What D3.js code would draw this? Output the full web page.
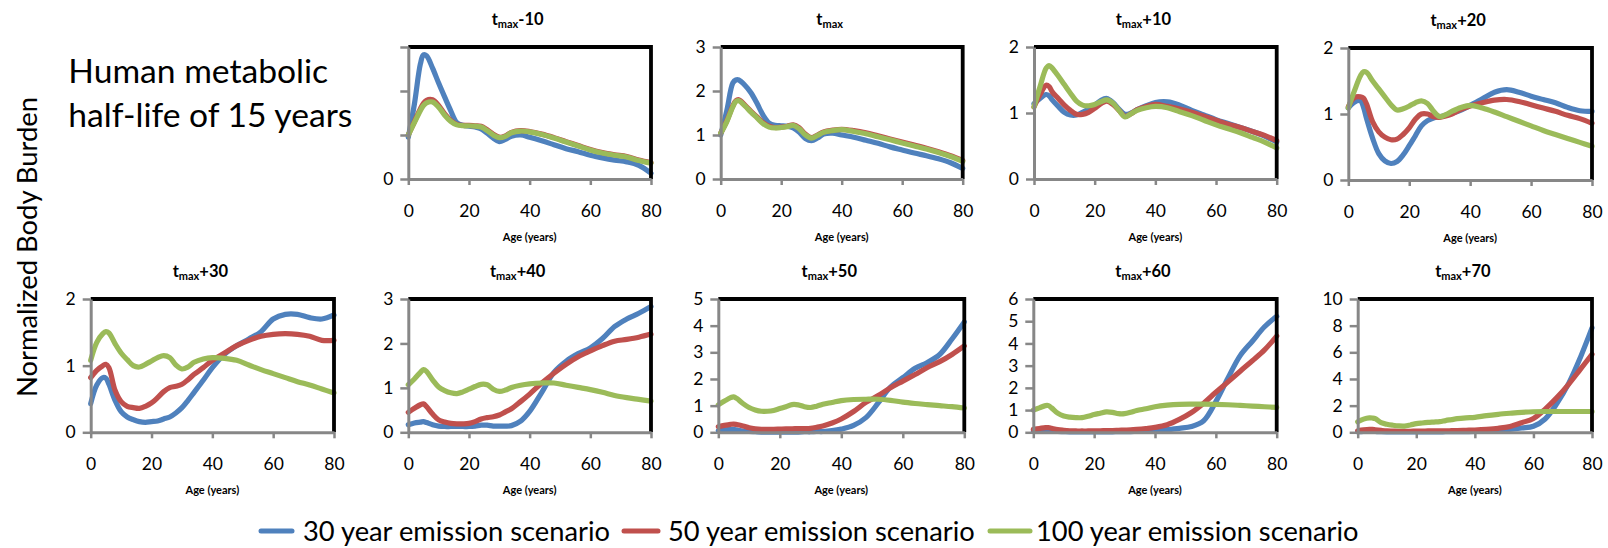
<!DOCTYPE html>
<html><head><meta charset="utf-8">
<script src="https://cdn.jsdelivr.net/npm/d3@7"></script>
<style>
body{margin:0;background:#fff}
svg{display:block}
text{font-family:Lato,"Open Sans",sans-serif;fill:#000}
</style>
</head><body>
<svg id="c" width="1608" height="548"></svg>
<script>
// ---------- data ----------
const ages = [0,2,4,5,6,8,10,12,14,16,18,20,22,24,26,28,30,32,34,37,40,44,48,52,56,60,64,68,72,76,80];
const seriesNames = ["30 year emission scenario","50 year emission scenario","100 year emission scenario"];
const panelSuffixes = ["-10","","+10","+20","+30","+40","+50","+60","+70"];
const yMaxes = [3,3,2,2,2,3,5,6,10];
const yTickValues = [[0,1,2,3],[0,1,2,3],[0,1,2],[0,1,2],[0,1,2],[0,1,2,3],[0,1,2,3,4,5],[0,1,2,3,4,5,6],[0,2,4,6,8,10]];
const yTickLabels = [["0","","",""],["0","1","2","3"],["0","1","2"],["0","1","2"],["0","1","2"],["0","1","2","3"],["0","1","2","3","4","5"],["0","1","2","3","4","5","6"],["0","2","4","6","8","10"]];
const xTickValues = [0,20,40,60,80];
const xAxisTitle = "Age (years)";
const yAxisTitle = "Normalized Body Burden";
const noteLines = ["Human metabolic","half-life of 15 years"];

const tm10_30 = [0.95,1.70,2.62,2.82,2.80,2.52,2.18,1.86,1.55,1.28,1.22,1.20,1.18,1.14,1.04,0.93,0.85,0.90,0.97,1.00,0.95,0.87,0.78,0.69,0.62,0.54,0.48,0.43,0.39,0.31,0.13];
const tm10_50 = [1.00,1.30,1.60,1.72,1.79,1.80,1.67,1.48,1.33,1.24,1.22,1.22,1.21,1.20,1.12,1.02,0.95,0.98,1.06,1.10,1.08,1.02,0.94,0.85,0.76,0.67,0.60,0.55,0.51,0.43,0.37];
const tm10_100 = [1.00,1.28,1.56,1.67,1.73,1.75,1.63,1.45,1.31,1.23,1.21,1.21,1.20,1.18,1.10,1.00,0.94,0.97,1.05,1.09,1.07,1.01,0.93,0.84,0.75,0.66,0.59,0.54,0.50,0.42,0.36];

const tm0_30 = [1.00,1.55,2.18,2.25,2.25,2.13,1.96,1.72,1.45,1.27,1.22,1.21,1.20,1.16,1.06,0.92,0.87,0.93,1.02,1.04,1.00,0.95,0.88,0.81,0.73,0.66,0.59,0.53,0.46,0.37,0.24];
const tm0_50 = [1.04,1.32,1.66,1.78,1.80,1.68,1.54,1.41,1.28,1.20,1.17,1.18,1.20,1.23,1.16,1.02,0.94,1.00,1.07,1.11,1.13,1.10,1.05,0.98,0.91,0.84,0.77,0.70,0.62,0.53,0.42];
const tm0_100 = [1.04,1.30,1.64,1.76,1.78,1.66,1.52,1.39,1.26,1.18,1.16,1.17,1.19,1.22,1.14,1.00,0.93,0.99,1.06,1.10,1.12,1.08,1.03,0.96,0.89,0.82,0.75,0.68,0.60,0.51,0.40];

const tp10_30 = [1.14,1.22,1.28,1.26,1.20,1.10,1.01,0.97,0.97,1.01,1.06,1.12,1.19,1.22,1.16,1.06,0.98,1.00,1.05,1.11,1.16,1.17,1.12,1.04,0.97,0.90,0.84,0.78,0.72,0.65,0.56];
const tp10_50 = [1.09,1.28,1.42,1.40,1.32,1.22,1.12,1.04,0.98,0.98,1.01,1.07,1.14,1.18,1.13,1.04,0.95,0.99,1.05,1.10,1.13,1.10,1.06,1.01,0.95,0.89,0.83,0.78,0.72,0.66,0.58];
const tp10_100 = [1.09,1.40,1.68,1.72,1.68,1.56,1.43,1.30,1.18,1.12,1.11,1.13,1.17,1.20,1.15,1.04,0.94,0.99,1.04,1.08,1.10,1.08,1.02,0.96,0.89,0.82,0.76,0.70,0.63,0.56,0.47];

const tp20_30 = [1.09,1.18,1.20,1.10,0.93,0.63,0.40,0.29,0.25,0.28,0.38,0.52,0.67,0.82,0.90,0.94,0.96,0.98,1.01,1.06,1.13,1.23,1.33,1.37,1.33,1.27,1.22,1.17,1.10,1.05,1.04];
const tp20_50 = [1.11,1.25,1.26,1.24,1.15,0.88,0.73,0.65,0.61,0.62,0.69,0.79,0.92,1.00,1.00,0.96,0.95,0.97,1.00,1.07,1.12,1.17,1.21,1.22,1.19,1.14,1.09,1.04,0.98,0.93,0.86];
const tp20_100 = [1.09,1.35,1.58,1.64,1.63,1.50,1.38,1.26,1.14,1.06,1.08,1.12,1.17,1.20,1.16,1.04,0.96,0.99,1.04,1.10,1.13,1.09,1.03,0.96,0.89,0.82,0.75,0.69,0.63,0.57,0.51];

const tp30_30 = [0.43,0.71,0.82,0.81,0.72,0.48,0.31,0.23,0.19,0.16,0.15,0.16,0.17,0.20,0.23,0.29,0.37,0.48,0.60,0.78,0.97,1.17,1.30,1.40,1.51,1.70,1.77,1.77,1.72,1.70,1.76];
const tp30_50 = [0.82,0.93,1.00,1.02,0.97,0.63,0.46,0.39,0.37,0.36,0.39,0.44,0.52,0.61,0.67,0.69,0.72,0.79,0.87,0.97,1.08,1.19,1.30,1.38,1.44,1.47,1.48,1.47,1.44,1.38,1.38];
const tp30_100 = [1.08,1.35,1.48,1.51,1.49,1.33,1.19,1.09,1.00,0.98,1.02,1.07,1.12,1.15,1.12,1.01,0.95,0.98,1.05,1.10,1.12,1.11,1.08,1.01,0.94,0.88,0.82,0.76,0.71,0.65,0.59];

const tp40_30 = [0.17,0.21,0.23,0.24,0.22,0.17,0.14,0.13,0.13,0.13,0.13,0.13,0.14,0.16,0.16,0.14,0.14,0.14,0.15,0.25,0.47,0.90,1.35,1.60,1.77,1.90,2.11,2.38,2.55,2.68,2.83];
const tp40_50 = [0.45,0.54,0.62,0.64,0.58,0.41,0.28,0.23,0.20,0.19,0.19,0.20,0.24,0.30,0.33,0.35,0.39,0.46,0.53,0.69,0.86,1.11,1.33,1.53,1.70,1.83,1.95,2.05,2.09,2.14,2.21];
const tp40_100 = [1.07,1.20,1.35,1.41,1.37,1.18,1.02,0.94,0.89,0.87,0.91,0.97,1.03,1.08,1.07,0.97,0.92,0.95,1.01,1.06,1.09,1.11,1.11,1.06,1.01,0.96,0.90,0.83,0.78,0.74,0.70];

const tp50_30 = [0.06,0.09,0.11,0.11,0.09,0.05,0.03,0.02,0.01,0.01,0.01,0.01,0.01,0.01,0.01,0.02,0.02,0.03,0.03,0.06,0.12,0.26,0.55,1.10,1.70,2.05,2.40,2.62,2.92,3.50,4.14];
const tp50_50 = [0.21,0.26,0.30,0.31,0.29,0.24,0.17,0.13,0.11,0.11,0.11,0.12,0.13,0.13,0.14,0.14,0.15,0.19,0.24,0.35,0.50,0.78,1.12,1.38,1.67,1.92,2.17,2.43,2.65,2.92,3.24];
const tp50_100 = [1.03,1.17,1.30,1.33,1.27,1.08,0.93,0.84,0.79,0.79,0.82,0.89,0.96,1.04,1.03,0.96,0.93,0.98,1.05,1.12,1.19,1.23,1.24,1.24,1.20,1.13,1.08,1.04,1.00,0.96,0.91];

const tp60_30 = [0.05,0.06,0.07,0.07,0.06,0.04,0.03,0.02,0.02,0.02,0.02,0.02,0.02,0.02,0.02,0.03,0.03,0.03,0.04,0.05,0.07,0.12,0.18,0.26,0.52,1.38,2.45,3.45,4.10,4.75,5.22];
const tp60_50 = [0.13,0.17,0.21,0.21,0.18,0.12,0.09,0.07,0.06,0.06,0.06,0.07,0.07,0.08,0.08,0.09,0.10,0.11,0.13,0.17,0.22,0.34,0.58,0.89,1.31,1.80,2.27,2.75,3.22,3.71,4.33];
const tp60_100 = [1.00,1.10,1.20,1.20,1.10,0.86,0.73,0.68,0.66,0.66,0.72,0.80,0.86,0.92,0.90,0.84,0.84,0.90,0.98,1.06,1.15,1.22,1.26,1.27,1.27,1.26,1.24,1.21,1.18,1.15,1.12];

const tp70_30 = [0.05,0.06,0.07,0.07,0.06,0.04,0.03,0.03,0.03,0.03,0.03,0.03,0.03,0.03,0.03,0.03,0.04,0.04,0.04,0.05,0.07,0.10,0.15,0.22,0.32,0.45,1.00,2.15,3.65,5.60,7.83];
const tp70_50 = [0.12,0.18,0.22,0.22,0.19,0.14,0.10,0.09,0.08,0.08,0.08,0.09,0.09,0.10,0.10,0.11,0.11,0.12,0.13,0.15,0.17,0.22,0.30,0.44,0.72,1.04,1.74,2.60,3.60,4.72,5.85];
const tp70_100 = [0.79,0.99,1.08,1.07,1.02,0.72,0.60,0.53,0.48,0.47,0.55,0.65,0.70,0.74,0.77,0.80,0.88,0.95,1.02,1.08,1.12,1.25,1.35,1.43,1.50,1.54,1.56,1.56,1.56,1.56,1.56];

const panelSeries = [
  [tm10_30, tm10_50, tm10_100],
  [tm0_30, tm0_50, tm0_100],
  [tp10_30, tp10_50, tp10_100],
  [tp20_30, tp20_50, tp20_100],
  [tp30_30, tp30_50, tp30_100],
  [tp40_30, tp40_50, tp40_100],
  [tp50_30, tp50_50, tp50_100],
  [tp60_30, tp60_50, tp60_100],
  [tp70_30, tp70_50, tp70_100]
];

// ---------- layout / style ----------
const colors = ["#4F81BD","#C0504D","#9BBB59"];
const boxes = [
  {l:408.3, r:651,    t:47,  b:179},
  {l:720.7, r:962.7,  t:47,  b:179},
  {l:1034,  r:1276.7, t:47,  b:179},
  {l:1348.3,r:1592,   t:48,  b:180},
  {l:90.7,  r:334,    t:299, b:432.3},
  {l:408.3, r:651,    t:299, b:432.3},
  {l:718.3, r:964.3,  t:299, b:432.3},
  {l:1033.3,r:1276.7, t:299, b:432.3},
  {l:1357.7,r:1592,   t:299, b:432.3}
];

const svg = d3.select("#c");
svg.append("rect").attr("width",1608).attr("height",548).attr("fill","#fff");

function fitWidth(sel, target){
  const w = sel.node().getComputedTextLength();
  const fs = parseFloat(sel.attr("font-size"));
  sel.attr("font-size", (fs*target/w).toFixed(2));
  return fs*target/w;
}

boxes.forEach((B,i)=>{
  const x = d3.scaleLinear().domain([0,80]).range([B.l,B.r]);
  const y = d3.scaleLinear().domain([0,yMaxes[i]]).range([B.b,B.t]);
  const g = svg.append("g");

  const line = d3.line().x((d,j)=>x(ages[j])).y(d=>y(d)).curve(d3.curveCatmullRom.alpha(0.5));
  panelSeries[i].forEach((vals,k)=>{
    g.append("path").datum(vals).attr("d",line)
      .attr("fill","none").attr("stroke",colors[k]).attr("stroke-width",5.2)
      .attr("stroke-linejoin","round").attr("stroke-linecap","round");
  });

  // plot border (top/right black)
  g.append("path").attr("d",`M${B.l},${B.t}H${B.r}V${B.b}`)
    .attr("fill","none").attr("stroke","#000").attr("stroke-width",3.8);

  // y axis
  const ya = g.append("g").attr("transform",`translate(${B.l},0)`)
    .call(d3.axisLeft(y).tickValues(yTickValues[i]).tickFormat((d,j)=>yTickLabels[i][j])
      .tickSize(8).tickSizeOuter(0).tickPadding(7));
  // x axis
  const xa = g.append("g").attr("transform",`translate(0,${B.b})`)
    .call(d3.axisBottom(x).tickValues(xTickValues).tickSize(6).tickSizeOuter(0).tickPadding(16));
  [ya,xa].forEach(a=>{
    a.select(".domain").attr("stroke","#878787").attr("stroke-width",3);
    a.selectAll(".tick line").attr("stroke","#878787").attr("stroke-width",2.5);
    a.selectAll(".tick text").attr("font-size",17.5).attr("font-family","Lato").attr("fill","#000");
  });
  xa.selectAll(".tick text").attr("dy",null).attr("y",null).attr("dominant-baseline",null)
    .attr("transform",`translate(0,${37.7})`);

  // x axis title
  g.append("text").attr("x",(B.l+B.r)/2).attr("y",B.b+62)
    .attr("text-anchor","middle").attr("font-size",11).attr("font-weight","bold").text(xAxisTitle);

  // panel title: t_max + suffix
  const cx = (B.l+B.r)/2 - 12;
  const tt = g.append("text").attr("x",cx).attr("y",B.t-22.5).attr("text-anchor","middle")
    .attr("font-weight","bold").attr("font-size",16.5);
  tt.append("tspan").text("t");
  tt.append("tspan").attr("font-size",11).attr("dy",3).text("max");
  if (panelSuffixes[i]) tt.append("tspan").attr("dy",-3).text(panelSuffixes[i]);
});

// note text
const n1 = svg.append("text").attr("x",68.3).attr("y",83.3).attr("font-size",30).text(noteLines[0]);
const nfs = fitWidth(n1, 260);
svg.append("text").attr("x",68.3).attr("y",126.7).attr("font-size",nfs).text(noteLines[1]);

// y axis title
const yt = svg.append("text").attr("transform","translate(36.5,247) rotate(-90)")
  .attr("text-anchor","middle").attr("font-size",26).text(yAxisTitle);
fitWidth(yt, 300);

// legend
const legendLines = [[261,292],[624,658],[990,1030]];
const legendTextX = [303,668,1036];
const legendTextW = [307,310,321];
const legY = 531;
let legFs = null;
seriesNames.forEach((name,k)=>{
  svg.append("line").attr("x1",legendLines[k][0]).attr("x2",legendLines[k][1])
    .attr("y1",legY).attr("y2",legY).attr("stroke",colors[k]).attr("stroke-width",5).attr("stroke-linecap","round");
  const t = svg.append("text").attr("x",legendTextX[k]).attr("y",legY).attr("dy","0.35em")
    .attr("font-size",24).text(name);
  if (legFs===null) legFs = fitWidth(t, legendTextW[k]); else t.attr("font-size",legFs);
});
</script>
</body></html>
